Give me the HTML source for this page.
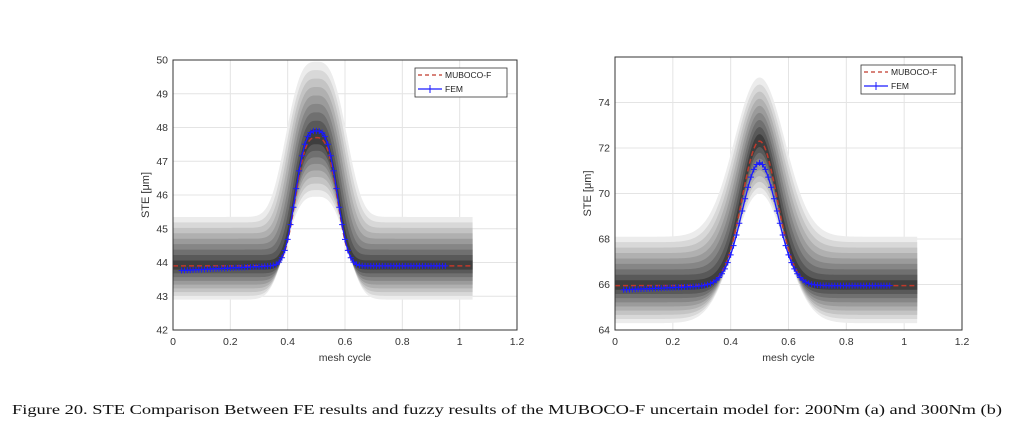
<!DOCTYPE html>
<html><head><meta charset="utf-8"><style>
body{margin:0;background:#fff;width:1024px;height:426px;overflow:hidden}
svg{position:absolute;left:0;top:0}
text{font-family:"Liberation Sans",sans-serif}
</style></head><body>
<svg id="s" width="1024" height="426" xmlns="http://www.w3.org/2000/svg"></svg>
<script>
const S=document.getElementById('s');let h='';
function plot(o){
 const X=v=>o.x0+(v/1.2)*(o.x1-o.x0), Y=v=>o.y1-(v-o.ymin)/(o.ymax-o.ymin)*(o.y1-o.y0);
 h+=`<rect x="${o.x0}" y="${o.y0}" width="${o.x1-o.x0}" height="${o.y1-o.y0}" fill="#fff"/>`;
 for(let t=0;t<=1.2001;t+=0.2)h+=`<line x1="${X(t)}" x2="${X(t)}" y1="${o.y0}" y2="${o.y1}" stroke="#e4e4e4"/>`;
 o.yt.forEach(t=>h+=`<line x1="${o.x0}" x2="${o.x1}" y1="${Y(t)}" y2="${Y(t)}" stroke="#e4e4e4"/>`);
 const N=240,xs=[];for(let i=0;i<=N;i++)xs.push(1.045*i/N);
 const c=x=>o.base+o.amp*o.shape(x,1), sh=o.shape;
 const L=9;
 for(let k=L;k>=1;k--){
  const f=k/L; const g=Math.round(62+ (236-62)*Math.pow((k-1)/(L-1),0.9));
  const w=1+0.45*f;
  const up=xs.map(x=>[X(x),Y(o.base+o.amp*sh(x,w)+f*(o.ub+(o.up-o.ub)*sh(x,w)))]);
  const dn=xs.map(x=>[X(x),Y(o.base+o.amp*sh(x,w)-f*(o.lb+(o.lp-o.lb)*sh(x,w)))]).reverse();
  h+=`<polygon points="${up.concat(dn).map(p=>p.join(',')).join(' ')}" fill="rgb(${g},${g},${g})"/>`;
 }
 h+=`<polyline points="${xs.map(x=>X(x)+','+Y(c(x))).join(' ')}" fill="none" stroke="#c0392b" stroke-width="1.5" stroke-dasharray="5,3"/>`;
 const fx=[];for(let x=0.03;x<=0.951;x+=0.01)fx.push(x);
 const fy=x=>o.fb(x)+o.famp*sh(x,1);
 h+=`<polyline points="${fx.map(x=>X(x)+','+Y(fy(x))).join(' ')}" fill="none" stroke="#1a1aff" stroke-width="1.3"/>`;
 fx.forEach(x=>{const px=X(x),py=Y(fy(x));h+=`<path d="M${px-3} ${py}h6M${px} ${py-3}v6" stroke="#1a1aff" stroke-width="1"/>`});
 h+=`<rect x="${o.x0}" y="${o.y0}" width="${o.x1-o.x0}" height="${o.y1-o.y0}" fill="none" stroke="#333"/>`;
 for(let t=0;t<=1.2001;t+=0.2){const l=t<0.01?'0':(Math.abs(t-1)<0.01?'1':t.toFixed(1));h+=`<text x="${X(t)}" y="${o.y1+15}" font-size="10.5" fill="#333" text-anchor="middle">${l}</text>`}
 o.yt.forEach(t=>h+=`<text x="${o.x0-5}" y="${Y(t)+3.5}" font-size="10.5" fill="#333" text-anchor="end">${t}</text>`);
 h+=`<text x="${(o.x0+o.x1)/2}" y="${o.y1+31}" font-size="10.5" fill="#333" text-anchor="middle">mesh cycle</text>`;
 h+=`<text transform="translate(${o.x0-24},${(o.y0+o.y1)/2}) rotate(-90)" font-size="11" fill="#333" text-anchor="middle">STE [μm]</text>`;
 const [lx,ly,lw,lh]=o.leg;
 h+=`<rect x="${lx}" y="${ly}" width="${lw}" height="${lh}" fill="#fff" stroke="#333" stroke-width="0.8"/>`;
 h+=`<line x1="${lx+3}" x2="${lx+27}" y1="${ly+7}" y2="${ly+7}" stroke="#c0392b" stroke-dasharray="4,3" stroke-width="1.2"/><text x="${lx+30}" y="${ly+10}" font-size="8.5" fill="#222">MUBOCO-F</text>`;
 h+=`<line x1="${lx+3}" x2="${lx+27}" y1="${ly+21}" y2="${ly+21}" stroke="#1a1aff" stroke-width="1.2"/><path d="M${lx+15} ${ly+17}v8" stroke="#1a1aff"/><text x="${lx+30}" y="${ly+24}" font-size="8.5" fill="#222">FEM</text>`;
}
plot({x0:173,x1:517,y0:60,y1:330,ymin:42,ymax:50,yt:[42,43,44,45,46,47,48,49,50],
 base:43.9,amp:3.8,shape:(x,w)=>Math.exp(-Math.pow(Math.abs(x-0.5)/(0.085*w),3)),
 ub:1.45,up:2.25,lb:1.0,lp:1.75,fb:x=>43.75+0.15*Math.min(1,x/0.35),famp:4.0,leg:[415,68,92,29]});
plot({x0:615,x1:962,y0:57,y1:330,ymin:64,ymax:76,yt:[64,66,68,70,72,74],
 base:65.95,amp:6.35,shape:(x,w)=>Math.exp(-Math.pow(Math.abs(x-0.5)/(0.085*w),2)),
 ub:2.15,up:2.8,lb:1.65,lp:2.3,fb:x=>65.75+0.2*Math.min(1,x/0.35),famp:5.4,leg:[861,65,94,29]});
h+=`<text x="12" y="414" font-size="14" textLength="990" lengthAdjust="spacingAndGlyphs" fill="#111" style="font-family:'Liberation Serif',serif">Figure 20. STE Comparison Between FE results and fuzzy results of the MUBOCO-F uncertain model for: 200Nm (a) and 300Nm (b)</text>`;
S.innerHTML=h;
</script>
</body></html>
